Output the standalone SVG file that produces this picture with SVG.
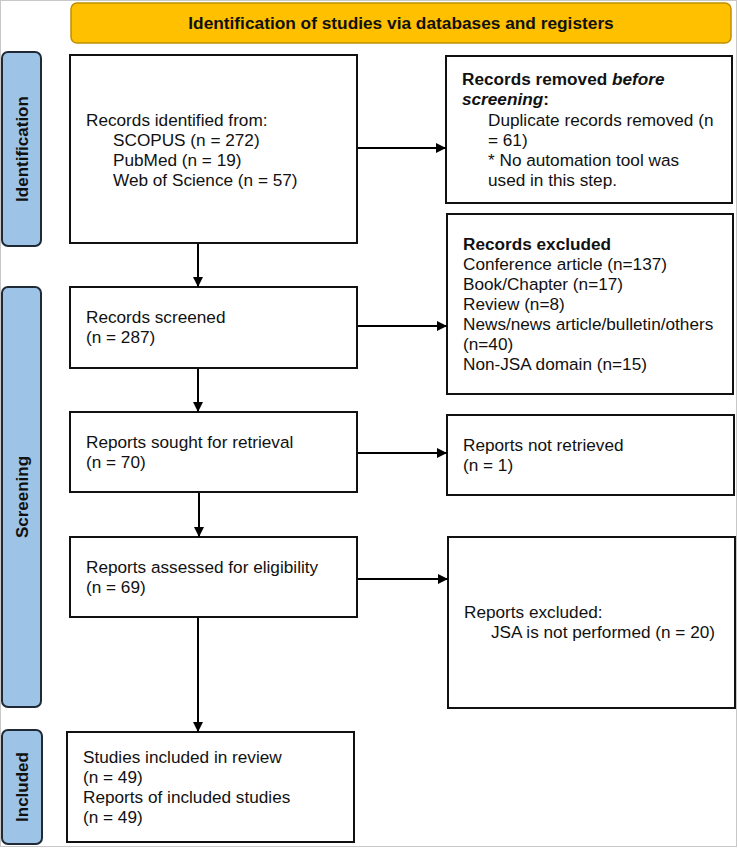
<svg xmlns="http://www.w3.org/2000/svg" width="738" height="848" viewBox="0 0 738 848">
<defs>
<marker id="ah" markerWidth="10" markerHeight="10" refX="10" refY="5" orient="auto" markerUnits="userSpaceOnUse">
<path d="M0,0 L10,5 L0,10 Z" fill="#000"/>
</marker>
<style>
.box{fill:#fff;stroke:#111;stroke-width:2}
.side{fill:#9DC3E6;stroke:#1F2A36;stroke-width:2}
.t{font-family:"Liberation Sans",Arial,sans-serif;font-size:17.2px;fill:#111}
.b{font-weight:bold}
.sl{font-family:"Liberation Sans",Arial,sans-serif;font-size:17px;font-weight:bold;fill:#111;text-anchor:middle}
.c{stroke:#000;stroke-width:2;fill:none;marker-end:url(#ah)}
</style>
</defs>
<rect x="0.5" y="0.5" width="736" height="846" fill="#fff" stroke="#c8c8c8" stroke-width="1"/>

<g id="banner">
<rect x="71" y="3" width="660" height="40" rx="6" fill="#FFC000" stroke="#BF9000" stroke-width="1.5"/>
<text x="401" y="29" class="t b" text-anchor="middle" style="font-size:17.3px">Identification of studies via databases and registers</text>
</g>

<g id="side-identification">
<rect x="2" y="52" width="39" height="194" rx="6" class="side"/>
<text class="sl" transform="translate(28,149) rotate(-90)">Identification</text>
</g>
<g id="side-screening">
<rect x="2" y="287" width="39" height="420" rx="6" class="side"/>
<text class="sl" transform="translate(28,497) rotate(-90)">Screening</text>
</g>
<g id="side-included">
<rect x="2" y="730" width="40" height="114" rx="6" class="side"/>
<text class="sl" transform="translate(28,787) rotate(-90)">Included</text>
</g>

<g id="records-identified">
<rect x="70" y="55" width="287" height="188" class="box"/>
<text class="t" x="86" y="126">Records identified from:</text>
<text class="t" x="113" y="146">SCOPUS (n = 272)</text>
<text class="t" x="113" y="166">PubMed (n = 19)</text>
<text class="t" x="113" y="186">Web of Science (n = 57)</text>
</g>

<g id="records-removed">
<rect x="446" y="56" width="286" height="147" class="box"/>
<text class="t b" x="462" y="85">Records removed <tspan font-style="italic">before</tspan></text>
<text class="t b" x="462" y="105"><tspan font-style="italic">screening</tspan>:</text>
<text class="t" x="488" y="126">Duplicate records removed (n</text>
<text class="t" x="488" y="146">= 61)</text>
<text class="t" x="488" y="166">* No automation tool was</text>
<text class="t" x="488" y="186">used in this step.</text>
</g>

<g id="records-screened">
<rect x="70" y="287" width="287" height="81" class="box"/>
<text class="t" x="86" y="323">Records screened</text>
<text class="t" x="86" y="343">(n = 287)</text>
</g>

<g id="records-excluded">
<rect x="447" y="214" width="286" height="180" class="box"/>
<text class="t b" x="463" y="250">Records excluded</text>
<text class="t" x="463" y="270">Conference article (n=137)</text>
<text class="t" x="463" y="290">Book/Chapter (n=17)</text>
<text class="t" x="463" y="310">Review (n=8)</text>
<text class="t" x="463" y="330">News/news article/bulletin/others</text>
<text class="t" x="463" y="350">(n=40)</text>
<text class="t" x="463" y="370">Non-JSA domain (n=15)</text>
</g>

<g id="reports-sought">
<rect x="70" y="412" width="287" height="80" class="box"/>
<text class="t" x="86" y="448">Reports sought for retrieval</text>
<text class="t" x="86" y="468">(n = 70)</text>
</g>

<g id="reports-not-retrieved">
<rect x="447" y="415" width="287" height="80" class="box"/>
<text class="t" x="463" y="451">Reports not retrieved</text>
<text class="t" x="463" y="471">(n = 1)</text>
</g>

<g id="reports-assessed">
<rect x="70" y="537" width="287" height="80" class="box"/>
<text class="t" x="86" y="573">Reports assessed for eligibility</text>
<text class="t" x="86" y="593">(n = 69)</text>
</g>

<g id="reports-excluded">
<rect x="448" y="537" width="287" height="171" class="box"/>
<text class="t" x="464" y="618">Reports excluded:</text>
<text class="t" x="491" y="638">JSA is not performed (n = 20)</text>
</g>

<g id="studies-included">
<rect x="67" y="732" width="287" height="110" class="box"/>
<text class="t" x="83" y="763">Studies included in review</text>
<text class="t" x="83" y="783">(n = 49)</text>
<text class="t" x="83" y="803">Reports of included studies</text>
<text class="t" x="83" y="823">(n = 49)</text>
</g>

<g id="connectors">
<line class="c" x1="198" y1="244" x2="198" y2="287"/>
<line class="c" x1="198" y1="369" x2="198" y2="412"/>
<line class="c" x1="199" y1="493" x2="199" y2="537"/>
<line class="c" x1="198" y1="618" x2="198" y2="732"/>
<line class="c" x1="358" y1="148" x2="446" y2="148"/>
<line class="c" x1="358" y1="326" x2="447" y2="326"/>
<line class="c" x1="358" y1="453" x2="447" y2="453"/>
<line class="c" x1="358" y1="579" x2="448" y2="579"/>
</g>
</svg>
